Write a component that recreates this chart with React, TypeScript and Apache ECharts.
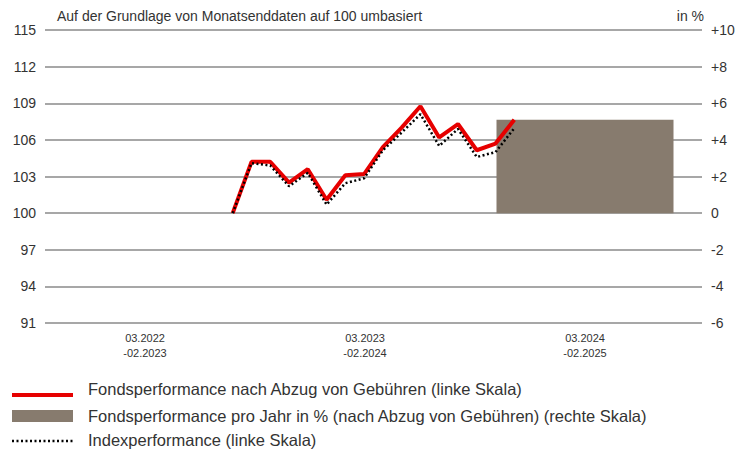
import React, { useEffect, useRef } from "react";
import * as echarts from "echarts";

const periodLabels = ["03.2022\n-02.2023", "03.2023\n-02.2024", "03.2024\n-02.2025"];
const annualPerf = [null, null, 5.1];

const months = [
  "03.2022", "04.2022", "05.2022", "06.2022", "07.2022", "08.2022", "09.2022", "10.2022", "11.2022", "12.2022",
  "01.2023", "02.2023", "03.2023", "04.2023", "05.2023", "06.2023", "07.2023", "08.2023", "09.2023", "10.2023",
  "11.2023", "12.2023", "01.2024", "02.2024", "03.2024", "04.2024", "05.2024", "06.2024", "07.2024", "08.2024",
  "09.2024", "10.2024", "11.2024", "12.2024", "01.2025", "02.2025",
];
const leadGap = [null, null, null, null, null, null, null, null, null, null];
const fundValues = [100, 104.2, 104.2, 102.5, 103.6, 101.1, 103.1, 103.2, 105.4, 107.0, 108.75, 106.2, 107.3, 105.15, 105.7, 107.65];
const indexValues = [100, 104.1, 103.9, 102.2, 103.3, 100.7, 102.45, 102.85, 105.15, 106.6, 108.1, 105.5, 106.9, 104.6, 105.0, 106.95];

const leftTicks = { min: 91, max: 115, interval: 3 };
const rightTicks = { min: -6, max: 10, interval: 2 };

const seriesNames = [
  "Fondsperformance nach Abzug von Gebühren (linke Skala)",
  "Fondsperformance pro Jahr in % (nach Abzug von Gebühren) (rechte Skala)",
  "Indexperformance (linke Skala)",
];
const titleText = "Auf der Grundlage von Monatsenddaten auf 100 umbasiert";
const unitText = "in %";

const FONT = "'Liberation Sans', Arial, sans-serif";
const TXT = "#333333";
const RED = "#E60000";
const BROWN = "#877B6E";
const GRID = "#8a8a8a";

export default function App() {
  const ref = useRef<HTMLDivElement>(null);
  useEffect(() => {
    if (!ref.current) return;
    const chart = echarts.init(ref.current, undefined, { renderer: "svg" });
    const top = 30;
    const bottom = 129;
    const legendText = (y: number, text: string) => ({
      type: "text",
      x: 88,
      y,
      style: { text, font: `16.5px ${FONT}`, fill: TXT, textVerticalAlign: "middle" },
    });
    chart.setOption({
      animation: false,
      textStyle: { fontFamily: FONT },
      graphic: [
        {
          type: "text",
          x: 57,
          y: 16,
          style: { text: titleText, font: `14px ${FONT}`, fill: TXT, textVerticalAlign: "middle" },
        },
        {
          type: "text",
          x: 704,
          y: 16,
          style: { text: unitText, font: `14px ${FONT}`, fill: TXT, textAlign: "right", textVerticalAlign: "middle" },
        },
        { type: "line", shape: { x1: 12, y1: 395, x2: 73, y2: 395 }, style: { stroke: RED, lineWidth: 4 } },
        legendText(389, seriesNames[0]),
        { type: "rect", shape: { x: 12, y: 410, width: 61, height: 12 }, style: { fill: BROWN } },
        legendText(416, seriesNames[1]),
        {
          type: "line",
          shape: { x1: 12, y1: 441, x2: 73, y2: 441 },
          style: { stroke: "#000", lineWidth: 2.5, lineDash: [2, 2.5] },
        },
        legendText(440, seriesNames[2]),
      ],
      grid: [
        { left: 45, right: 46, top, bottom },
        { left: 35, right: 53, top, bottom },
      ],
      xAxis: [
        {
          type: "category",
          gridIndex: 0,
          data: months,
          boundaryGap: false,
          show: false,
        },
        {
          type: "category",
          gridIndex: 1,
          data: periodLabels,
          axisLine: { show: false },
          axisTick: { show: false },
          axisLabel: { fontFamily: FONT, fontSize: 11, color: TXT, lineHeight: 15, margin: 7 },
        },
      ],
      yAxis: [
        {
          type: "value",
          gridIndex: 0,
          position: "left",
          ...leftTicks,
          axisLine: { show: false },
          axisTick: { show: false },
          axisLabel: { fontFamily: FONT, fontSize: 14, color: TXT, margin: 9 },
          splitLine: { lineStyle: { color: GRID, width: 1.5 } },
        },
        {
          type: "value",
          gridIndex: 0,
          position: "right",
          ...rightTicks,
          axisLine: { show: false },
          axisTick: { show: false },
          splitLine: { show: false },
          axisLabel: {
            fontFamily: FONT,
            fontSize: 14,
            color: TXT,
            margin: 9,
            formatter: (v: number) => (v > 0 ? "+" + v : String(v)),
          },
        },
        {
          type: "value",
          gridIndex: 1,
          ...rightTicks,
          show: false,
          splitLine: { show: false },
        },
      ],
      series: [
        {
          name: seriesNames[0],
          type: "line",
          xAxisIndex: 0,
          yAxisIndex: 0,
          data: [...leadGap, ...fundValues],
          symbol: "none",
          z: 4,
          lineStyle: { color: RED, width: 4 },
          itemStyle: { color: RED },
        },
        {
          name: seriesNames[1],
          type: "bar",
          xAxisIndex: 1,
          yAxisIndex: 2,
          data: annualPerf,
          barWidth: 177,
          z: 2,
          itemStyle: { color: BROWN },
        },
        {
          name: seriesNames[2],
          type: "line",
          xAxisIndex: 0,
          yAxisIndex: 0,
          data: [...leadGap, ...indexValues],
          symbol: "none",
          z: 5,
          lineStyle: { color: "#000000", width: 2.5, type: [2, 2.5] },
          itemStyle: { color: "#000000" },
        },
      ],
    });
    return () => chart.dispose();
  }, []);
  return <div ref={ref} style={{ position: "absolute", left: 0, top: 0, width: 748, height: 452 }} />;
}
